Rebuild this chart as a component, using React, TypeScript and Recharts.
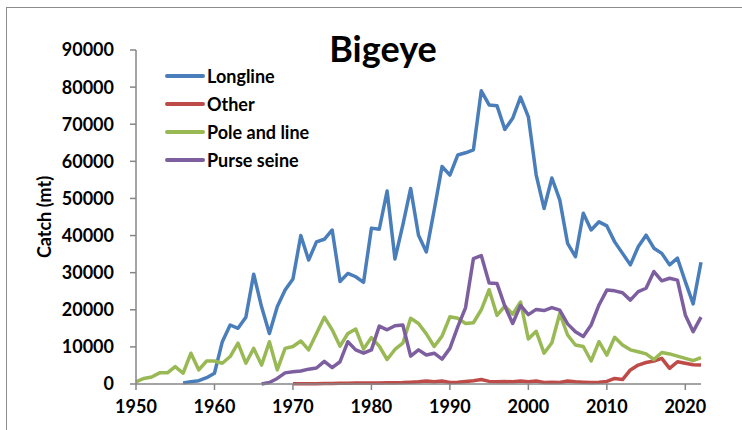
import React from "react"
import { LineChart, Line, XAxis, YAxis } from "recharts"

const years = [
  1950, 1951, 1952, 1953, 1954, 1955, 1956, 1957, 1958, 1959,
  1960, 1961, 1962, 1963, 1964, 1965, 1966, 1967, 1968, 1969,
  1970, 1971, 1972, 1973, 1974, 1975, 1976, 1977, 1978, 1979,
  1980, 1981, 1982, 1983, 1984, 1985, 1986, 1987, 1988, 1989,
  1990, 1991, 1992, 1993, 1994, 1995, 1996, 1997, 1998, 1999,
  2000, 2001, 2002, 2003, 2004, 2005, 2006, 2007, 2008, 2009,
  2010, 2011, 2012, 2013, 2014, 2015, 2016, 2017, 2018, 2019,
  2020, 2021, 2022,
]

const longline = [
  null, null, null, null, null, null, 300, 600, 900, 1700,
  2900, 11400, 15900, 15000, 18000, 29600, 20800, 13600, 20800, 25300,
  28300, 40000, 33400, 38300, 39000, 41500, 27600, 29800, 28900, 27400,
  42000, 41700, 52000, 33700, 42800, 52700, 40100, 35600, 46900, 58600,
  56300, 61700, 62300, 63100, 79000, 75200, 75000, 68600, 71600, 77300,
  72000, 56300, 47300, 55500, 49600, 37900, 34300, 46000, 41500, 43700,
  42600, 38300, 35200, 32100, 37000, 40100, 36600, 35200, 32100, 33900,
  27600, 21600, 32800,
]

const other = [
  null, null, null, null, null, null, null, null, null, null,
  null, null, null, null, null, null, null, null, null, null,
  100, 100, 100, 100, 150, 150, 200, 200, 250, 300,
  300, 300, 350, 350, 400, 500, 600, 800, 600, 800,
  400, 500, 700, 900, 1200, 700, 600, 700, 600, 800,
  600, 800, 400, 500, 400, 800, 600, 500, 400, 500,
  700, 1500, 1200, 3800, 5100, 5800, 6200, 6900, 4200, 6000,
  5600, 5200, 5100,
]

const poleAndLine = [
  600, 1500, 1900, 3000, 3000, 4700, 2900, 8300, 3800, 6200,
  6200, 5600, 7400, 11000, 5600, 9600, 5100, 11400, 3800, 9600,
  10100, 11600, 9200, 13600, 18000, 14600, 10200, 13600, 14800, 9400,
  12500, 10200, 6600, 9300, 11000, 17700, 16300, 13500, 10100, 12900,
  18100, 17700, 16300, 16500, 20000, 25400, 18500, 21000, 18800, 22100,
  12100, 14200, 8300, 11100, 19000, 13200, 10500, 10100, 6200, 11400,
  7800, 12600, 10500, 9200, 8700, 8100, 6600, 8500, 8100, 7500,
  6900, 6300, 7100,
]

const purseSeine = [
  null, null, null, null, null, null, null, null, null, null,
  null, null, null, null, null, null, 0, 400, 1500, 3000,
  3300, 3500, 4000, 4300, 6100, 4400, 6000, 11400, 9200, 8300,
  9200, 15600, 14600, 15700, 15900, 7500, 9200, 7800, 8300, 6700,
  9600, 15400, 20600, 33800, 34600, 27200, 27100, 21000, 16300, 21200,
  18700, 20100, 19800, 20600, 19900, 16200, 14100, 12800, 15900, 21300,
  25300, 25100, 24600, 22600, 24900, 25800, 30300, 27800, 28500, 28000,
  18600, 14100, 18000,
]

const xTicks = [1950, 1960, 1970, 1980, 1990, 2000, 2010, 2020]
const yTicks = [0, 10000, 20000, 30000, 40000, 50000, 60000, 70000, 80000, 90000]

const series = [
  { key: "longline", name: "Longline", color: "#4A7EBB" },
  { key: "other", name: "Other", color: "#BE4B48" },
  { key: "pole", name: "Pole and line", color: "#98B954" },
  { key: "purse", name: "Purse seine", color: "#7D5FA0" },
]

const data = years.map((year, i) => ({
  year,
  longline: longline[i],
  other: other[i],
  pole: poleAndLine[i],
  purse: purseSeine[i],
}))

const FONT = "Lato, 'Open Sans', sans-serif"
const AXIS = "#868686"

function LegendBox() {
  return (
    <div style={{ position: "absolute", left: 165, top: 62, fontFamily: FONT, fontWeight: 700, fontSize: 18, color: "#000" }}>
      {series.map((s) => (
        <div key={s.key} style={{ display: "flex", alignItems: "center", height: 28 }}>
          <svg width={40} height={10}>
            <line x1={2} y1={5} x2={38} y2={5} stroke={s.color} strokeWidth={4} strokeLinecap="round" />
          </svg>
          <span style={{ marginLeft: 2 }}>{s.name}</span>
        </div>
      ))}
    </div>
  )
}

export default function App() {
  return (
    <div style={{ position: "fixed", left: 0, top: 0, width: 742, height: 430, overflow: "hidden", background: "#fff" }}>
      <div style={{ position: "absolute", left: 6, top: 7, width: 800, height: 500, border: "1.5px solid #8c8c8c", boxSizing: "border-box" }} />
      <div style={{ position: "absolute", left: 0, top: 0, width: 742, height: 430 }}>
        <LineChart width={742} height={430} data={data} margin={{ top: 50, right: 41, bottom: 16, left: 56 }}>
          <XAxis
            dataKey="year"
            type="number"
            domain={[1950, 2022]}
            ticks={xTicks}
            tickSize={6}
            tickMargin={10}
            height={30}
            stroke={AXIS}
            strokeWidth={1.5}
            tick={{ fill: "#000", fontSize: 18, fontFamily: FONT, fontWeight: 700 }}
          />
          <YAxis
            type="number"
            domain={[0, 90000]}
            ticks={yTicks}
            interval={0}
            width={80}
            tickSize={6}
            tickMargin={16}
            stroke={AXIS}
            strokeWidth={1.5}
            tick={{ fill: "#000", fontSize: 18, fontFamily: FONT, fontWeight: 700 }}
            label={{
              value: "Catch (mt)",
              angle: -90,
              position: "insideLeft",
              offset: -11,
              style: { fill: "#000", fontSize: 18, fontFamily: FONT, fontWeight: 700, textAnchor: "middle" },
            }}
          />
          {series.map((s) => (
            <Line
              key={s.key}
              dataKey={s.key}
              name={s.name}
              stroke={s.color}
              strokeWidth={3.5}
              dot={false}
              isAnimationActive={false}
              strokeLinejoin="round"
            />
          ))}
        </LineChart>
        <LegendBox />
        <div
          style={{
            position: "absolute",
            left: 283,
            width: 200,
            top: 26,
            textAlign: "center",
            fontFamily: FONT,
            fontWeight: 700,
            fontSize: 36,
            color: "#000",
          }}
        >
          Bigeye
        </div>
      </div>
    </div>
  )
}
